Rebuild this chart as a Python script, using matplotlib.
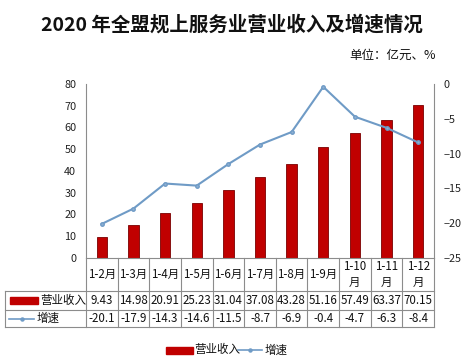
import numpy as np
import matplotlib.pyplot as plt
from matplotlib.lines import Line2D
from matplotlib.patches import Rectangle

plt.rcParams['font.family'] = ['Noto Sans CJK SC', 'DejaVu Sans']

categories = ["1-2月", "1-3月", "1-4月", "1-5月", "1-6月", "1-7月", "1-8月",
              "1-9月", "1-10\n月", "1-11\n月", "1-12\n月"]
revenue = [9.43, 14.98, 20.91, 25.23, 31.04, 37.08, 43.28, 51.16, 57.49, 63.37, 70.15]
growth = [-20.1, -17.9, -14.3, -14.6, -11.5, -8.7, -6.9, -0.4, -4.7, -6.3, -8.4]
rev_labels = ["9.43", "14.98", "20.91", "25.23", "31.04", "37.08", "43.28",
              "51.16", "57.49", "63.37", "70.15"]
growth_labels = ["-20.1", "-17.9", "-14.3", "-14.6", "-11.5", "-8.7", "-6.9",
                 "-0.4", "-4.7", "-6.3", "-8.4"]

W, H = 469, 360
BAR_COLOR = "#C00000"
LINE_COLOR = "#6F9BC6"
GRID = "#8C8C8C"
FS = 8.3


def fx(px):
    return px / W


def fy(py):
    return 1 - py / H


fig = plt.figure(figsize=(W / 100, H / 100), dpi=100)
L, R, T, B = 86, 434, 84, 258
ax = fig.add_axes([fx(L), fy(B), fx(R - L), (B - T) / H])
x = np.arange(len(categories))
ax.bar(x, revenue, width=0.33, color=BAR_COLOR, edgecolor="#7A0000", linewidth=0.6)
ax.set_xlim(-0.5, len(categories) - 0.5)
ax.set_ylim(0, 80)
ax.set_yticks(range(0, 81, 10))
ax.set_xticks([])
ax.tick_params(axis="y", length=0, labelsize=7.8, pad=7, colors="#222222")
for s in ["top", "right"]:
    ax.spines[s].set_visible(False)
ax.spines["left"].set_color(GRID)
ax.spines["bottom"].set_color(GRID)
ax.spines["left"].set_linewidth(0.8)
ax.spines["bottom"].set_linewidth(0.8)

ax2 = ax.twinx()
ax2.plot(x, growth, color=LINE_COLOR, lw=1.5, marker="o", ms=2.5,
         markerfacecolor="#8FB0D3", markeredgecolor=LINE_COLOR)
ax2.set_ylim(-25, 0)
ax2.set_yticks(range(-25, 1, 5))
ax2.tick_params(axis="y", length=0, labelsize=7.8, pad=7, colors="#222222")
for s in ["top", "left", "bottom"]:
    ax2.spines[s].set_visible(False)
ax2.spines["right"].set_color(GRID)
ax2.spines["right"].set_linewidth(0.8)

# title and unit
fig.text(fx(232), fy(25), "2020 年全盟规上服务业营业收入及增速情况", ha="center", va="center",
         fontsize=14, fontweight="bold", color="#111111")
fig.text(fx(436), fy(55), "单位：亿元、%", ha="right", va="center", fontsize=9,
         fontweight="medium", color="#111111")

# data table
col_w = (R - L) / len(categories)
y_cat, y_rev, y_gr = 291, 310, 327
lkw = dict(color=GRID, lw=0.8, transform=fig.transFigure)
for py in [y_cat, y_rev, y_gr]:
    fig.add_artist(Line2D([fx(5), fx(R)], [fy(py), fy(py)], **lkw))
fig.add_artist(Line2D([fx(5), fx(5)], [fy(y_cat), fy(y_gr)], **lkw))
for i in range(len(categories) + 1):
    px = L + i * col_w
    fig.add_artist(Line2D([fx(px), fx(px)], [fy(B), fy(y_gr)], **lkw))

for i in range(len(categories)):
    cx = fx(L + (i + 0.5) * col_w)
    fig.text(cx, fy((B + y_cat) / 2), categories[i], ha="center", va="center",
             fontsize=FS, linespacing=1.2, color="#111111")
    fig.text(cx, fy((y_cat + y_rev) / 2), rev_labels[i], ha="center", va="center",
             fontsize=FS, color="#111111")
    fig.text(cx, fy((y_rev + y_gr) / 2), growth_labels[i], ha="center", va="center",
             fontsize=FS, color="#111111")

# row headers
ry = fy((y_cat + y_rev) / 2)
fig.add_artist(Rectangle((fx(10), ry - 3.5 / H), fx(28), 7 / H, color=BAR_COLOR,
                         transform=fig.transFigure))
fig.text(fx(40), ry, "营业收入", ha="left", va="center", fontsize=FS, color="#111111")
gy = fy((y_rev + y_gr) / 2)
fig.add_artist(Line2D([fx(9), fx(34)], [gy, gy], color=LINE_COLOR, lw=1.2,
                      transform=fig.transFigure))
fig.add_artist(Line2D([fx(21.5)], [gy], color=LINE_COLOR, marker="o", ms=2.2,
                      transform=fig.transFigure))
fig.text(fx(37), gy, "增速", ha="left", va="center", fontsize=FS, color="#111111")

# bottom legend
ly = fy(350)
fig.add_artist(Rectangle((fx(166), ly - 3.5 / H), fx(27), 7 / H, color=BAR_COLOR,
                         transform=fig.transFigure))
fig.text(fx(194), ly, "营业收入", ha="left", va="center", fontsize=FS, color="#111111")
fig.add_artist(Line2D([fx(238), fx(262)], [ly, ly], color=LINE_COLOR, lw=1.2,
                      transform=fig.transFigure))
fig.add_artist(Line2D([fx(250)], [ly], color=LINE_COLOR, marker="o", ms=2.2,
                      transform=fig.transFigure))
fig.text(fx(265), ly, "增速", ha="left", va="center", fontsize=FS, color="#111111")

fig.savefig("out.png", dpi=100, facecolor="white")
